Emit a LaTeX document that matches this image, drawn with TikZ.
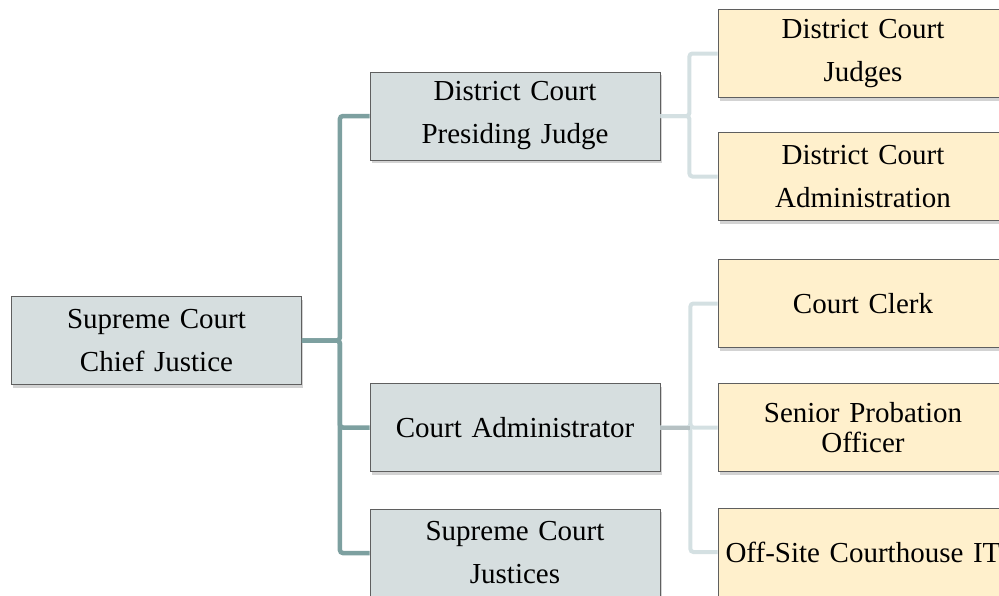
\documentclass[tikz,border=0pt]{standalone}
\usepackage{fontspec}
\setmainfont{Liberation Serif}
\usepackage{tikz}
\usetikzlibrary{shadows}
\definecolor{lead-fill}{RGB}{214,222,223}
\definecolor{staff-fill}{RGB}{255,240,204}
\definecolor{box-line}{RGB}{95,95,95}
\definecolor{trunk-color}{RGB}{125,160,160}
\definecolor{branch-color}{RGB}{212,224,226}
\definecolor{stub-color}{RGB}{182,193,195}
\tikzset{
    card/.style = {draw=box-line, line width=0.8pt,
        minimum width=290pt, minimum height=88pt, text width=280pt,
        inner sep=0pt, align=center, font=\fontsize{29}{43}\selectfont,
        drop shadow={shadow xshift=1.5pt, shadow yshift=-3pt, opacity=0.35}},
    lead/.style = {card, fill=lead-fill},
    staff/.style = {card, fill=staff-fill},
    trunk/.style = {draw=trunk-color, line width=4.5pt, rounded corners=3pt},
    branch/.style = {draw=branch-color, line width=4pt, rounded corners=3pt},
    stub/.style = {draw=stub-color, line width=4pt},
}
\begin{document}
\begin{tikzpicture}[x=1pt,y=-1pt]
\useasboundingbox (0,0) rectangle (999,595);
\clip (0,0) rectangle (999,595);

\node[lead] (chief) at (156.5,340.5) {Supreme Court\\Chief Justice};

\node[lead] (judge) at (515,116) {District Court\\Presiding Judge};
\node[lead] (admin) at (515,427.5) {Court Administrator};
\node[lead] (justices) at (515,553) {Supreme Court\\Justices};

\node[staff] (dcjudges) at (863,53.5) {District Court\\Judges};
\node[staff] (dcadmin) at (863,176.5) {District Court\\Administration};
\node[staff] (clerk) at (863,303.5) {Court Clerk};
\node[staff, font=\fontsize{29}{30}\selectfont] (probation) at (863,427.5) {Senior Probation\\Officer};
\node[staff] (offsite) at (863,552) {Off-Site Courthouse IT};

\draw[trunk] (chief.east) -- ++(38,0) |- (judge.west);
\draw[trunk] (chief.east) -- ++(38,0) |- (admin.west);
\draw[trunk] (chief.east) -- ++(38,0) |- (justices.west);

\draw[branch] (judge.east) -- ++(29,0) |- (dcjudges.west);
\draw[branch] (judge.east) -- ++(29,0) |- (dcadmin.west);

\draw[branch] (admin.east) -- ++(30,0) |- (clerk.west);
\draw[branch] (admin.east) -- ++(30,0) |- (probation.west);
\draw[branch] (admin.east) -- ++(30,0) |- (offsite.west);
\draw[stub] (admin.east) -- ++(30,0);

\end{tikzpicture}
\end{document}
